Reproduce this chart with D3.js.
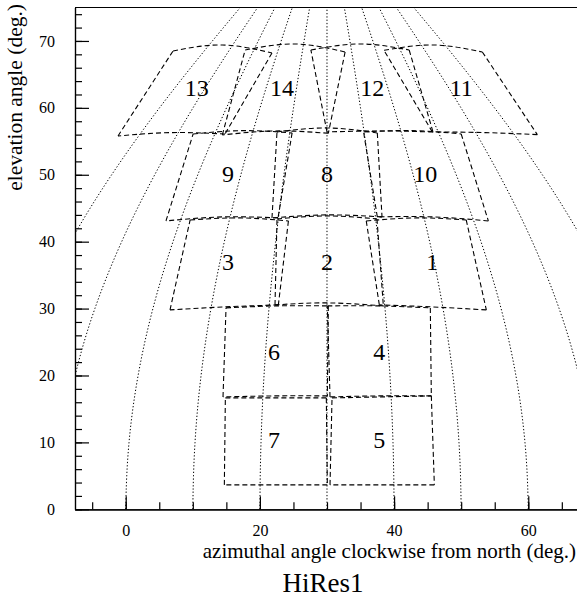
<!DOCTYPE html>
<html>
<head>
<meta charset="utf-8">
<script src="https://cdn.jsdelivr.net/npm/d3@7"></script>
<style>
  html, body { margin: 0; padding: 0; background: #fff; }
  svg { display: block; }
</style>
</head>
<body>
<script>
// ---------------- data ----------------
const xMajorTicks = [0, 20, 40, 60];
const xMinorTicks = [-5, 0, 5, 10, 15, 20, 25, 30, 35, 40, 45, 50, 55, 60, 65];
const yMajorTicks = [0, 10, 20, 30, 40, 50, 60, 70];
const yMinorTicks = [0, 2, 4, 6, 8, 10, 12, 14, 16, 18, 20, 22, 24, 26, 28, 30, 32, 34, 36, 38,
                     40, 42, 44, 46, 48, 50, 52, 54, 56, 58, 60, 62, 64, 66, 68, 70, 72, 74];

// azimuth lines of the sky grid (deg), drawn converging about azimuth 30
const gridCenterAzimuth = 30;
const gridAzimuths = [-20, -10, 0, 10, 20, 30, 40, 50, 60, 70, 80];
const gridElevations = [0, 5, 10, 15, 20, 25, 30, 35, 40, 45, 50, 55, 60, 65, 70, 75, 80, 85, 90];

// mirror numbers and outlines: [top-left, top-mid, top-right, bottom-right, bottom-mid, bottom-left]
const mirrorNumbers = [1, 2, 3, 4, 5, 6, 7, 8, 9, 10, 11, 12, 13, 14];
const mirrorOutlines = [
  [[35.85, 43.1], [43.3, 43.55], [50.75, 43.25], [53.75, 29.8], [45.7, 30.25], [37.8, 30.55]],
  [[22.55, 43.4], [30.0, 43.85], [37.45, 43.4], [38.4, 30.4], [30.0, 30.85], [22.25, 30.55]],
  [[9.6, 43.25], [17.1, 43.55], [24.25, 43.1], [22.75, 30.55], [14.7, 30.25], [6.6, 29.8]],
  [[30.05, 30.4], [37.65, 30.4], [45.4, 30.1], [45.55, 16.95], [37.9, 16.95], [30.45, 16.8]],
  [[30.75, 16.65], [38.2, 16.8], [45.55, 16.95], [46.0, 3.65], [38.2, 3.65], [30.45, 3.65]],
  [[14.95, 30.1], [22.55, 30.4], [30.2, 30.4], [30.05, 16.95], [22.25, 16.95], [14.5, 16.8]],
  [[14.85, 16.65], [22.4, 16.65], [29.9, 16.65], [30.05, 3.65], [22.4, 3.65], [14.7, 3.65]],
  [[22.55, 56.4], [30.0, 57.0], [37.5, 56.25], [38.2, 43.7], [30.0, 44.0], [21.8, 43.55]],
  [[10.05, 56.1], [17.5, 56.6], [24.8, 56.25], [22.7, 43.55], [14.35, 43.7], [6.0, 43.1]],
  [[35.45, 56.4], [42.7, 56.6], [50.0, 56.1], [54.05, 43.1], [45.7, 43.7], [37.5, 43.7]],
  [[38.5, 68.6], [45.85, 69.4], [53.15, 68.35], [61.35, 56.0], [53.6, 56.3], [45.7, 56.4]],
  [[27.6, 68.65], [34.95, 69.55], [42.25, 68.65], [45.8, 56.4], [37.9, 56.55], [30.0, 56.4]],
  [[7.05, 68.5], [14.4, 69.4], [21.8, 68.2], [14.8, 56.1], [6.75, 56.3], [-1.15, 55.8]],
  [[17.8, 68.65], [25.25, 69.55], [32.7, 68.35], [30.2, 56.2], [22.3, 56.55], [14.4, 55.95]]
];
const labelX = [45.7, 30.0, 15.25, 37.8, 37.8, 22.1, 22.1, 30.0, 15.25, 44.65, 50.0, 36.75, 10.6, 23.3];
const labelY = [37.0, 37.0, 37.0, 23.5, 10.4, 23.5, 10.4, 50.1, 50.1, 50.1, 63.0, 63.0, 63.0, 63.0];

const xTitle = "azimuthal angle clockwise from north (deg.)";
const yTitle = "elevation angle (deg.)";
const chartTitle = "HiRes1";

const SERIF = "'Liberation Serif', 'Times New Roman', Times, 'Nimbus Roman', 'DejaVu Serif', 'Noto Serif', serif";

// ---------------- layout ----------------
const W = 577, H = 603;
const plot = { left: 75, right: 590, top: 7.5, bottom: 509.3 };

const x = d3.scaleLinear().domain([-7.56, 69.2]).range([plot.left, plot.right]);
const y = d3.scaleLinear().domain([0, 75]).range([plot.bottom, plot.top]);

const svg = d3.select("body").append("svg").attr("width", W).attr("height", H);

svg.append("defs").append("clipPath").attr("id", "plotclip")
  .append("rect")
  .attr("x", plot.left).attr("y", plot.top)
  .attr("width", plot.right - plot.left).attr("height", plot.bottom - plot.top);

const inner = svg.append("g").attr("clip-path", "url(#plotclip)");

// sky grid (dotted)
const gridLine = d3.line()
  .x(d => x(gridCenterAzimuth + (d.az - gridCenterAzimuth) * Math.cos(d.el * Math.PI / 180)))
  .y(d => y(d.el))
  .curve(d3.curveBasis);
inner.selectAll("path.grid")
  .data(gridAzimuths)
  .join("path")
  .attr("class", "grid")
  .attr("d", az => gridLine(gridElevations.map(el => ({ az, el }))))
  .attr("fill", "none")
  .attr("stroke", "#000")
  .attr("stroke-width", 1)
  .attr("stroke-dasharray", "1.3,2");

// mirror outlines (dashed)
const arc = d3.line().x(d => x(d[0])).y(d => y(d[1])).curve(d3.curveNatural);
const seg = d3.line().x(d => x(d[0])).y(d => y(d[1]));
const mirrors = inner.selectAll("g.mirror").data(mirrorOutlines).join("g").attr("class", "mirror");
mirrors.each(function (p) {
  const g = d3.select(this);
  const paths = [
    arc([p[0], p[1], p[2]]),
    seg([p[2], p[3]]),
    arc([p[3], p[4], p[5]]),
    seg([p[5], p[0]])
  ];
  g.selectAll("path").data(paths).join("path")
    .attr("d", d => d)
    .attr("fill", "none")
    .attr("stroke", "#000")
    .attr("stroke-width", 1.1)
    .attr("stroke-dasharray", "5,3");
});

// mirror numbers
svg.selectAll("text.mnum")
  .data(mirrorNumbers)
  .join("text")
  .attr("class", "mnum")
  .attr("x", (d, i) => x(labelX[i]))
  .attr("y", (d, i) => y(labelY[i]))
  .attr("dy", "0.35em")
  .attr("text-anchor", "middle")
  .style("font-family", SERIF)
  .style("font-size", "24px")
  .text(d => d);

// ---------------- axes ----------------
const yMinor = d3.axisLeft(y).tickValues(yMinorTicks).tickSize(-7).tickSizeOuter(0).tickFormat("");
const yMajor = d3.axisLeft(y).tickValues(yMajorTicks).tickSize(-14).tickSizeOuter(0).tickPadding(20);
const xMinor = d3.axisBottom(x).tickValues(xMinorTicks).tickSize(-7).tickSizeOuter(0).tickFormat("");
const xMajor = d3.axisBottom(x).tickValues(xMajorTicks).tickSize(-13).tickSizeOuter(0).tickPadding(15);

function styleAxis(g) {
  g.attr("font-family", null);
  g.selectAll("path.domain").attr("stroke", "#000").attr("stroke-width", 1.2);
  g.selectAll(".tick line").attr("stroke", "#000").attr("stroke-width", 1.2);
  g.selectAll(".tick text").style("font-family", SERIF).style("font-size", "16px").attr("fill", "#000");
}

svg.append("g").attr("transform", `translate(${plot.left},0)`).call(yMinor).call(styleAxis);
svg.append("g").attr("transform", `translate(${plot.left},0)`).call(yMajor).call(styleAxis);
svg.append("g").attr("transform", `translate(0,${plot.bottom})`).call(xMinor).call(styleAxis);
svg.append("g").attr("transform", `translate(0,${plot.bottom})`).call(xMajor).call(styleAxis);

// top frame line
svg.append("line")
  .attr("x1", plot.left).attr("x2", plot.right)
  .attr("y1", plot.top).attr("y2", plot.top)
  .attr("stroke", "#000").attr("stroke-width", 1.2);

// titles
svg.append("text")
  .attr("x", 576).attr("y", 558)
  .attr("text-anchor", "end")
  .style("font-family", SERIF)
  .style("font-size", "21px")
  .text(xTitle);

svg.append("text")
  .attr("transform", "translate(22,4) rotate(-90)")
  .attr("text-anchor", "end")
  .style("font-family", SERIF)
  .style("font-size", "21.5px")
  .text(yTitle);

svg.append("text")
  .attr("x", 323).attr("y", 592)
  .attr("text-anchor", "middle")
  .style("font-family", SERIF)
  .style("font-size", "27px")
  .text(chartTitle);
</script>
</body>
</html>
